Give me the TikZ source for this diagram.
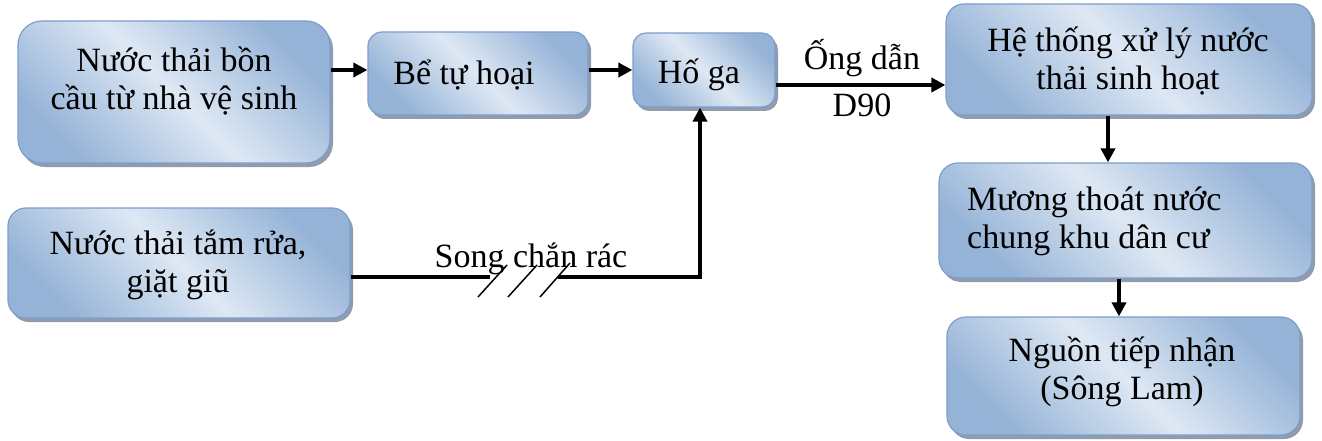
\documentclass[tikz,border=0pt]{standalone}
\usepackage{fontspec}
\setmainfont{Liberation Serif}
\usetikzlibrary{shadows,arrows.meta}
\definecolor{bdark}{RGB}{149,179,215}
\definecolor{blight}{RGB}{222,232,244}
\definecolor{bedge}{RGB}{125,158,204}
\definecolor{shad}{RGB}{125,138,160}
\begin{document}
\begin{tikzpicture}[x=1pt,y=-1pt,
  box/.style={draw=bedge, line width=1.2pt, top color=bdark, bottom color=bdark, middle color=blight, shading angle=-45,
    drop shadow={shadow xshift=3pt, shadow yshift=-4pt, fill=shad, opacity=0.85}, inner sep=0pt},
  txt/.style={font=\fontsize{34}{38}\selectfont, align=center, anchor=base, inner sep=0pt},
  arr/.style={line width=3.5pt, -{Triangle[length=14pt,width=14pt]}},
  ln/.style={line width=3.5pt},
  slash/.style={line width=1.5pt}]
\fill[white] (0,0) rectangle (1322,441);
\useasboundingbox (0,0) rectangle (1322,441);
% boxes
\node[box, minimum width=312pt, minimum height=142pt, rounded corners=24pt] (b1) at (174,92) {};
\node[box, minimum width=220pt, minimum height=83pt, rounded corners=14pt] (b2) at (478,73.5) {};
\node[box, minimum width=142pt, minimum height=74pt, rounded corners=13pt] (b3) at (704,70) {};
\node[box, minimum width=366pt, minimum height=111pt, rounded corners=18pt] (b4) at (1129,59.5) {};
\node[box, minimum width=373pt, minimum height=115pt, rounded corners=19pt] (b5) at (1125.5,220.5) {};
\node[box, minimum width=353pt, minimum height=118pt, rounded corners=19pt] (b6) at (1123.5,376) {};
\node[box, minimum width=342pt, minimum height=110pt, rounded corners=18pt] (b7) at (179,263) {};
% texts (multi-line nodes: base anchor is the last line)
\node[txt] (t1) at (174,110) {Nước thải bồn\\cầu từ nhà vệ sinh};
\node[txt] (t2) at (464,85) {Bể tự hoại};
\node[txt] (t3) at (699,84) {Hố ga};
\node[txt] (t4) at (1128,90) {Hệ thống xử lý nước\\thải sinh hoạt};
\node[txt, anchor=base west, align=left] (t5) at (967,248) {Mương thoát nước\\chung khu dân cư};
\node[txt] (t6) at (1122,399) {Nguồn tiếp nhận\\(Sông Lam)};
\node[txt] (t7) at (178,292) {Nước thải tắm rửa,\\giặt giũ};
\node[txt] (l1) at (862,70) {Ống dẫn};
\node[txt] (l2) at (862,117) {D90};
\node[txt] (l3) at (531,267) {Song chắn rác};
% helper coordinates
\coordinate (y70) at (0,70);
\coordinate (y85) at (0,85);
\coordinate (y277) at (0,277);
\coordinate (x1108) at (1108,0);
\coordinate (x1119) at (1119,0);
\coordinate (x700) at (700,0);
\coordinate (g1) at (490,277);
\coordinate (g2) at (558,277);
\coordinate (c1) at (700,277);
% connectors
\draw[arr] (b1.east |- y70) -- (b2.west |- y70);
\draw[arr] (b2.east |- y70) -- (b3.west |- y70);
\draw[arr] (b3.east |- y85) -- (b4.west |- y85);
\draw[arr] (b4.south -| x1108) -- (b5.north -| x1108);
\draw[arr] (b5.south -| x1119) -- (b6.north -| x1119);
\draw[ln] (b7.east |- y277) -- (g1);
\draw[arr] (g2) -- (c1) -- (b3.south -| x700);
% screen bars
\draw[slash] (478,297) -- (507,265);
\draw[slash] (508,297) -- (537,265);
\draw[slash] (540,297) -- (570,263);
\end{tikzpicture}
\end{document}
